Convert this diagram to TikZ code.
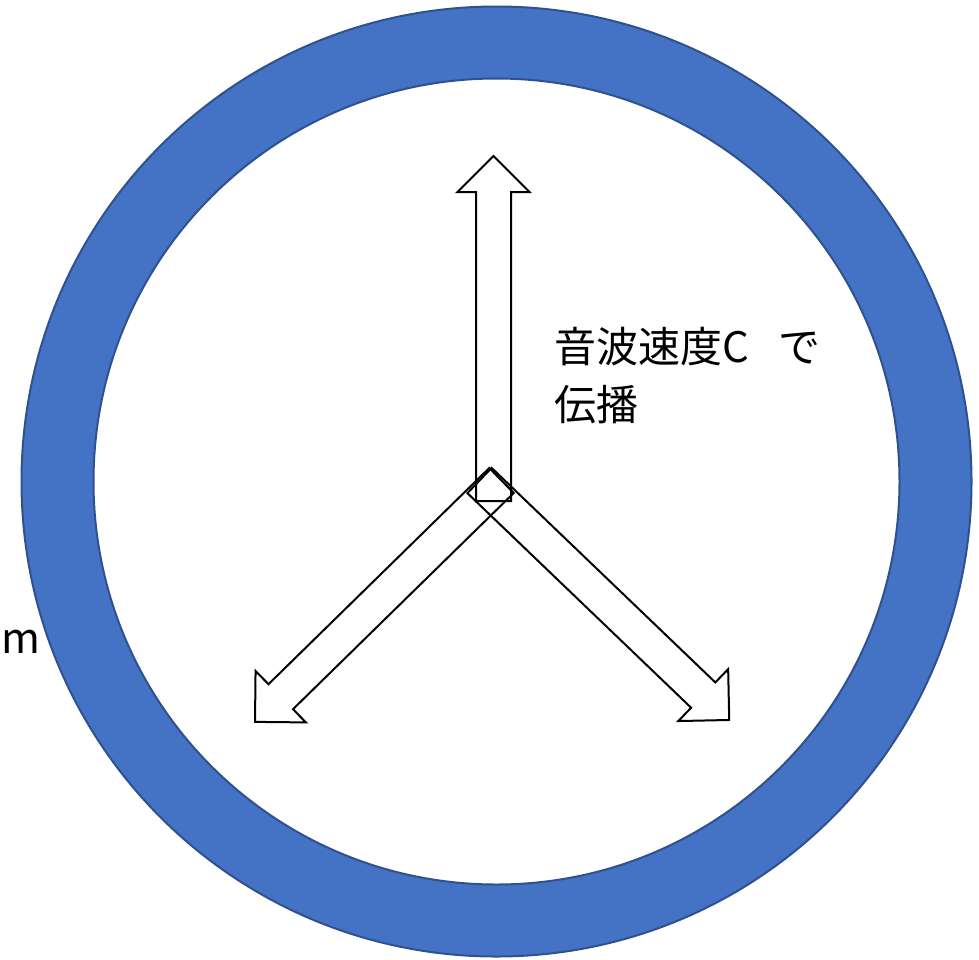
\documentclass[tikz,border=0pt]{standalone}
\usepackage{fontspec}
\setmainfont{Noto Sans CJK JP}
\definecolor{ringfill}{HTML}{4472C4}
\definecolor{ringline}{HTML}{2F528F}
\tikzset{
  ring/.style={fill=ringfill, draw=ringline, line width=2pt, even odd rule},
  blockarrow/.style={draw=black, line width=2pt, line join=miter},
  lbl/.style={inner sep=0pt, font=\fontsize{42}{58}\selectfont, text=black}
}
% #1 tail centre, #2 angle, #3 length
\newcommand{\myblockarrow}[3]{%
  \begin{scope}[shift={#1}, rotate=#2]
    \draw[blockarrow] (0,-17.5) -- ({#3-36},-17.5) -- ({#3-36},-36) -- (#3,0)
      -- ({#3-36},36) -- ({#3-36},17.5) -- (0,17.5) -- cycle;
  \end{scope}}
\begin{document}
\begin{tikzpicture}[x=1pt, y=-1pt]
\useasboundingbox (0,0) rectangle (979,959);
\coordinate (c) at (496.5,481.5);
\path[ring] (c) circle[radius=475pt] (c) circle[radius=403pt];
\coordinate (tv) at (493.5,501);
\coordinate (tl) at (501.5,480.5);
\coordinate (tr) at (479.5,480.5);
\myblockarrow{(tv)}{90}{345}
\myblockarrow{(tl)}{224.4}{345}
\myblockarrow{(tr)}{316.2}{346}
\node[lbl, anchor=base west] (t1) at (554,362) {音波速度C\hspace{0.7em}で};
\node[lbl, anchor=base west] (t2) at (554,420) {伝播};
\node[lbl, anchor=base west] (m) at (1,653) {m};
\end{tikzpicture}
\end{document}
